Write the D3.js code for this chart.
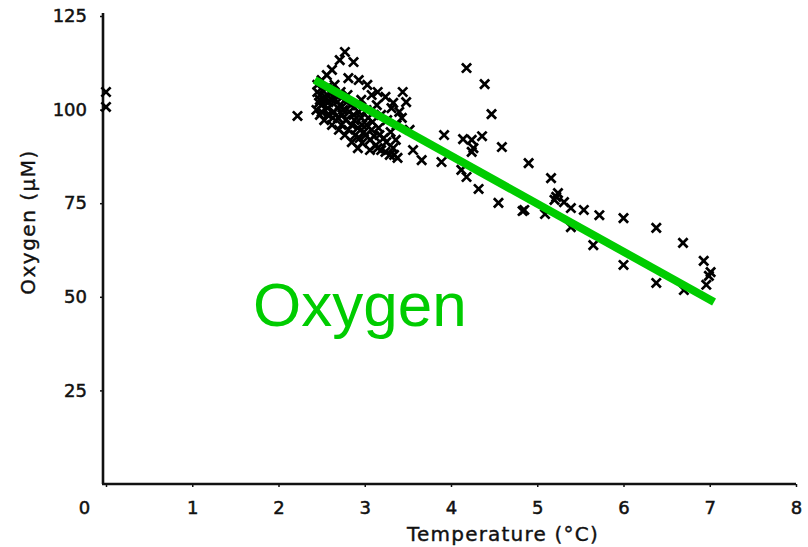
<!DOCTYPE html>
<html><head><meta charset="utf-8">
<script src="https://cdn.jsdelivr.net/npm/d3@7"></script>
<style>body{margin:0;background:#fff}svg{display:block}</style>
</head><body>
<svg id="chart" width="808" height="547"></svg>
<script>
const xTicks = [0,1,2,3,4,5,6,7,8];
const yTicks = [25,50,75,100,125];
const xTitle = "Temperature (°C)";
const yTitle = "Oxygen (μM)";
const fitLabel = "Oxygen";
// observations [temperature, oxygen]
const temps = [0,0,2.22,
 2.48,2.52,2.56,2.50,2.59,2.62,2.65,2.57,2.67,2.71,2.64,2.73,2.75,2.79,2.69,2.78,2.82,2.85,2.87,2.91,2.92,2.96,2.99,2.94,3.02,3.06,3.08,3.13,3.17,3.19,3.25,3.29,3.33,3.38,
 2.96,3.02,3.08,3.14,3.19,3.26,3.31,3.37,3.43,2.48,2.53,2.62,2.70,2.77,2.85,2.92,
 2.56,2.62,2.71,2.77,2.87,2.81,2.93,3.03,3.15,3.24,3.33,3.44,3.48,3.40,3.52,3.66,3.89,3.56,
 2.45,2.50,2.44,2.59,
 2.45,2.48,2.51,2.55,2.58,2.62,2.66,2.69,2.72,2.74,2.80,2.84,2.88,2.93,2.97,3.01,3.04,3.09,3.11,3.16,3.22,3.30,3.36,
 2.47,2.50,2.57,2.63,2.73,2.81,2.89,2.97,3.06,3.15,3.24,3.34,
 4.18,4.39,4.47,3.92,4.14,4.24,4.36,4.24,4.26,4.59,4.90,5.16,4.12,4.18,4.32,4.55,4.83,5.09,5.22,5.24,5.20,5.31,5.39,5.54,5.72,5.39,5.65,6.00,6.38,6.69,6.93,7.01,6.99,6.96,6.00,6.38,6.70,4.85];
const oxygen = [104.7,100.7,98.3,
 103.9,102.6,105.8,101.2,104.7,102.6,106.6,100.4,103.9,101.2,99.4,103.1,99.9,102.0,97.8,97.2,99.4,95.9,98.6,101.2,95.1,97.8,94.0,92.4,95.9,91.9,94.6,90.5,93.2,89.2,91.3,87.9,89.7,87.1,
 102.6,99.9,103.9,101.2,98.6,97.2,100.4,95.9,97.8,98.6,97.2,95.9,94.6,93.2,91.3,89.7,
 109.2,110.6,113.2,115.4,112.7,108.4,107.9,106.6,104.7,103.4,101.8,104.7,102.0,99.4,94.6,86.5,86.0,89.2,
 106.6,107.9,99.9,98.6,
 104.7,102.6,105.2,103.3,102.0,104.5,102.6,100.4,104.7,98.6,103.9,101.2,97.2,99.4,95.9,93.2,97.8,96.7,92.9,95.1,92.4,94.0,91.9,
 101.8,99.4,98.6,97.8,95.9,94.6,93.2,91.1,89.2,89.7,88.7,87.9,
 111.1,106.8,98.8,93.2,92.1,91.9,92.9,88.7,89.7,90.0,85.7,81.7,83.9,82.0,78.8,75.1,72.9,72.1,76.7,77.7,75.9,75.3,73.7,73.2,71.8,68.6,63.8,71.0,68.4,64.4,59.6,56.6,55.6,53.2,58.5,53.7,51.8,73.2];
// fitted line end points
const fitX = [2.42, 7.05];
const fitY = [107.9, 48.6];

const svg = d3.select("#chart");
const x = d3.scaleLinear().domain([0,8]).range([106,796]);
const y = d3.scaleLinear().domain([0,125]).range([484,16]);
const font = "DejaVu Sans, sans-serif";

// axes
const xa = svg.append("g").attr("transform","translate(0,484)")
  .call(d3.axisBottom(x).tickValues(xTicks).tickFormat(d3.format("d")).tickSizeInner(3).tickSizeOuter(0).tickPadding(14));
const ya = svg.append("g").attr("transform","translate(103,0)")
  .call(d3.axisLeft(y).tickValues(yTicks).tickFormat(d3.format("d")).tickSizeInner(3).tickSizeOuter(0).tickPadding(13));
[xa,ya].forEach(a=>{
  a.select(".domain").attr("stroke","#111").attr("stroke-width",2.6);
  a.selectAll(".tick line").attr("stroke","#111").attr("stroke-width",1.5);
  a.selectAll(".tick text").attr("font-family",font).attr("font-size",18).attr("fill","#111")
    .attr("stroke","#111").attr("stroke-width",0.5);
});
ya.select(".domain").attr("d",`M0,${y(0)}V${y(125)-3}`);
xa.select(".domain").attr("d",`M${x(0)-4},0H${x(8)}`);
xa.selectAll(".tick").filter(d=>d===0).select("text").attr("dx",-22);

// axis titles
svg.append("text").attr("x",503).attr("y",541).attr("text-anchor","middle")
  .attr("font-family",font).attr("font-size",20).attr("letter-spacing",1.2)
  .attr("fill","#111").attr("stroke","#111").attr("stroke-width",0.4).text(xTitle);
svg.append("text").attr("transform","translate(35,222) rotate(-90)").attr("text-anchor","middle")
  .attr("font-family",font).attr("font-size",20).attr("letter-spacing",1.5)
  .attr("fill","#111").attr("stroke","#111").attr("stroke-width",0.4).text(yTitle);

// markers
const pts = temps.map((t,i)=>[t,oxygen[i]]);
svg.append("g").selectAll("path").data(pts).join("path")
  .attr("d",d=>{const cx=x(d[0]), cy=y(d[1]), r=4.6;
    return `M${cx-r},${cy-r}L${cx+r},${cy+r}M${cx-r},${cy+r}L${cx+r},${cy-r}`;})
  .attr("stroke","#000").attr("stroke-width",2.7).attr("fill","none");

// fit line
svg.append("line").attr("x1",x(fitX[0])).attr("y1",y(fitY[0])).attr("x2",x(fitX[1])).attr("y2",y(fitY[1]))
  .attr("stroke","#00cc00").attr("stroke-width",8);

svg.append("text").attr("x",253).attr("y",326).attr("font-family","Liberation Sans, Arial, sans-serif")
  .attr("font-size",62).attr("fill","#00cc00").text(fitLabel);
</script>
</body></html>
